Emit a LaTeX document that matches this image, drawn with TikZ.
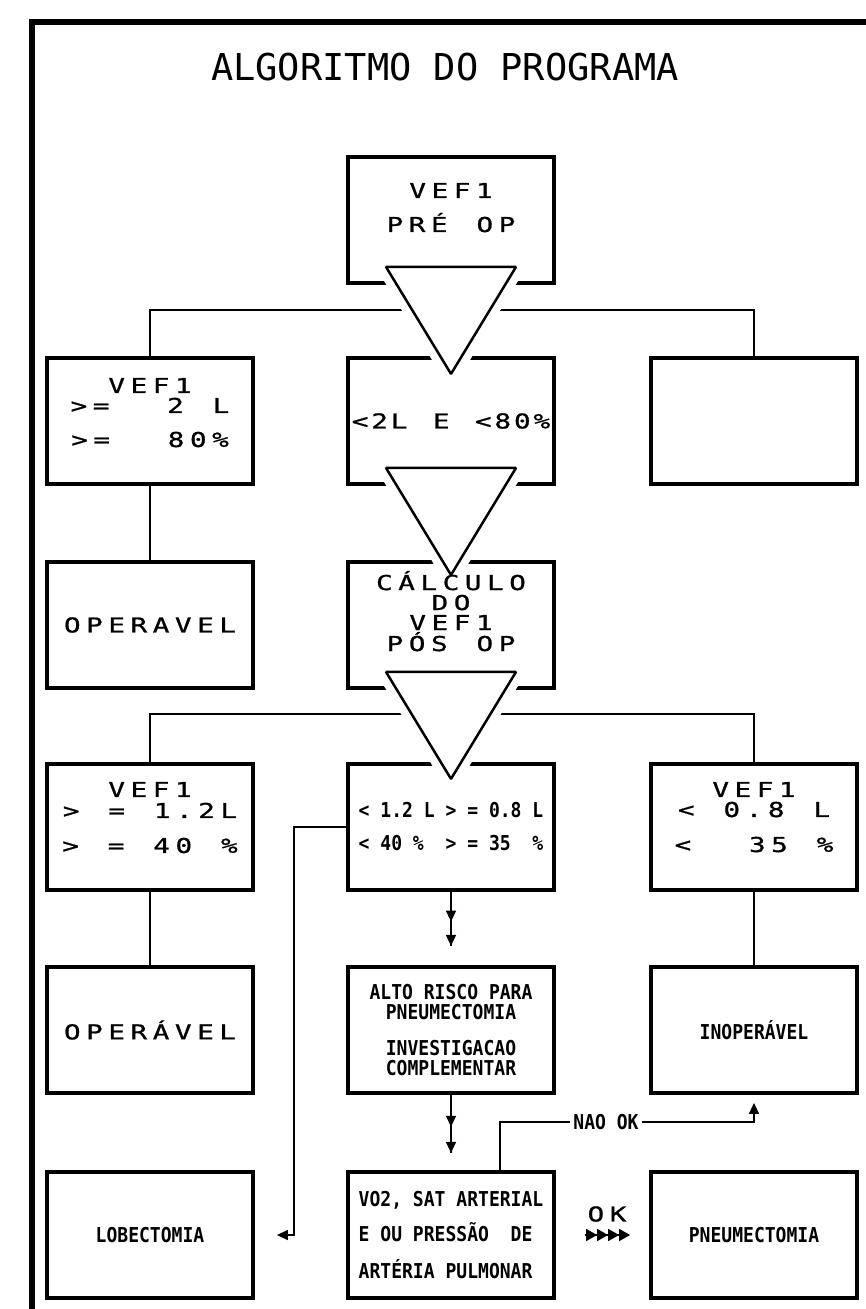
\documentclass[tikz,border=0pt]{standalone}
\usepackage{fontspec}
\usetikzlibrary{arrows.meta, calc, decorations.markings}
\newfontfamily\plotfont{DejaVu Sans Mono}[FakeStretch=1.35, FakeBold=1, LetterSpace=27, WordSpace=1.3]
\newfontfamily\lowfont{DejaVu Sans Mono}[FakeStretch=0.88]
\newfontfamily\titlefont{DejaVu Sans Mono}

\begin{document}
\begin{tikzpicture}[x=1pt, y=-1pt,
    box/.style={draw, line width=3.8pt, minimum width=206pt, minimum height=126pt,
                inner sep=0pt, align=center, font=\plotfont\fontsize{20.5pt}{24pt}\selectfont},
    lowbox/.style={box, font=\lowfont\bfseries\fontsize{20.5pt}{24pt}\selectfont},
    lbl/.style={inner sep=3pt, font=\lowfont\bfseries\fontsize{20.5pt}{24pt}\selectfont},
    link/.style={line width=1.5pt},
    endarr/.style={-{Triangle[length=11pt,width=10pt]}},
    okarr/.style={-{Triangle[length=11pt,width=12pt,sep=0pt]Triangle[length=11pt,width=12pt,sep=0pt]Triangle[length=11pt,width=12pt,sep=0pt]Triangle[length=11pt,width=12pt,sep=0pt]}},
    dblarr/.style={link, postaction={decorate}, decoration={markings,
                mark=at position 0.55 with {\arrow{Triangle[length=11pt,width=10pt]}},
                mark=at position 1 with {\arrow{Triangle[length=11pt,width=10pt]}}}},
    tri/.style={draw, line width=2.5pt, fill=white, line join=bevel,
                preaction={draw=white, line width=18pt}}
]
\fill[white] (0,0) rectangle (865,1309);
\useasboundingbox (0,0) rectangle (865,1309);
% moldura
\draw[line width=6pt] (32,1330) -- (32,22) -- (890,22);
\node[font=\titlefont\fontsize{37pt}{40pt}\selectfont] (title) at (445,67) {ALGORITMO DO PROGRAMA};

% linha 1 e 2
\node[box] (pre) at (451,220) {VEF1\\[10pt]PRÉ OP\\[1pt]\mbox{}};
\node[box] (l2) at (150,421) {VEF1\\[-4pt]>=\ \ 2 L\\[10pt]>=\ \ 80\%\\[-7pt]\mbox{}};
\node[box] (c2) at (451,421) {\addfontfeature{LetterSpace=14}<2L E <80\%};
\node[box] (r2) at (754,421) {};
% linha 3
\node[box] (l3) at (150,625) {OPERAVEL};
\node[box] (c3) at (451,625) {};
% linha 4
\node[box] (l4) at (150,827) {VEF1\\[-3pt]> = 1.2L\\[11pt]> = 40 \%\\[-5pt]\mbox{}};
\node[lowbox] (c4) at (451,827) {< 1.2 L > = 0.8 L\\[9pt]< 40 \%\ \ > = 35\ \ \%};
\node[box] (r4) at (754,827) {VEF1\\[-4pt]< 0.8 L\\[11pt]<\ \ 35 \%\\[-4pt]\mbox{}};
% linha 5
\node[box] (l5) at (150,1030) {OPERÁVEL};
\node[lowbox] (c5) at (451,1030) {ALTO RISCO PARA\\[-4pt]PNEUMECTOMIA\\[12pt]INVESTIGACAO\\[-4pt]COMPLEMENTAR};
\node[lowbox] (r5) at (754,1030) {INOPERÁVEL};
% linha 6
\node[lowbox] (l6) at (150,1235) {LOBECTOMIA};
\node[lowbox, align=left] (c6) at (451,1235) {VO2, SAT ARTERIAL\\[11pt]E OU PRESSÃO\ \ DE\\[13pt]ARTÉRIA PULMONAR};
\node[lowbox] (r6) at (754,1235) {PNEUMECTOMIA};

\node[lbl] (nao) at (606,1122) {NAO OK};
\node[font=\plotfont\fontsize{20.5pt}{24pt}\selectfont] (ok) at (607,1214) {OK};

% ligacoes
\draw[link] (l2.north) -- ++(0,-46) -| (r2.north);
\draw[link] (l2.south) -- (l3.north);
\draw[link] (l4.north) -- ++(0,-48) -| (r4.north);
\draw[link] (l4.south) -- (l5.north);
\draw[link] (r4.south) -- (r5.north);
\draw[dblarr] (c4.south) -- ++(0,54);
\draw[dblarr] (c5.south) -- ++(0,58);
\draw[link, endarr, shorten >=22pt] (c4.west) -- ++(-52,0) |- (l6.east);
\draw[link] ([xshift=49pt]c6.north) |- (nao.west);
\draw[link, endarr, shorten >=8pt] (nao.east) -| (r5.south);
\draw[link, okarr, shorten <=29pt, shorten >=19pt] (c6.east) -- (r6.west);

% triangulos
\draw[tri] ($(pre.south)+(-65,-18)$) -- ($(pre.south)+(65,-18)$) -- ($(pre.south)+(0,89)$) -- cycle;
\draw[tri] ($(c2.south)+(-65,-18)$) -- ($(c2.south)+(65,-18)$) -- ($(c2.south)+(0,89)$) -- cycle;
\draw[tri] ($(c3.south)+(-65,-18)$) -- ($(c3.south)+(65,-18)$) -- ($(c3.south)+(0,89)$) -- cycle;

% texto do calculo por cima do triangulo
\node[box, draw=none] (c3t) at (c3.center) {CÁLCULO\\[-4pt]DO\\[-4pt]VEF1\\[-3pt]PÓS OP\\[4pt]\mbox{}};
\end{tikzpicture}
\end{document}
